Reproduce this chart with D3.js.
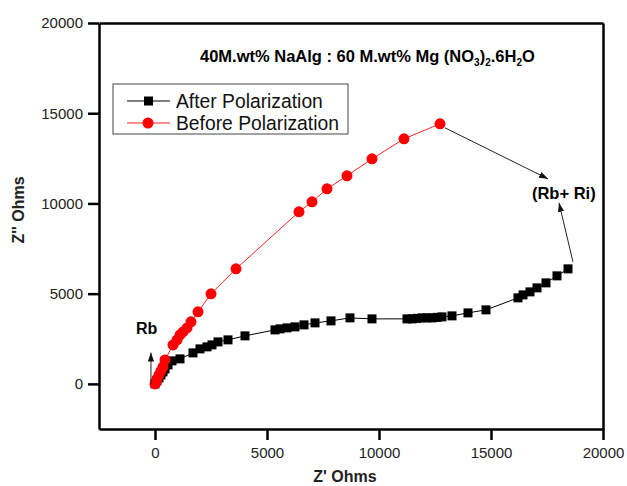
<!DOCTYPE html>
<html>
<head>
<meta charset="utf-8">
<script src="https://cdn.jsdelivr.net/npm/d3@7"></script>
<style>
  body { margin: 0; background: #fff; }
  svg { font-family: "Liberation Sans", Arial, sans-serif; }
  .axis path, .axis line { stroke: #000; stroke-width: 2.5; }
  .axis text { font-size: 15px; fill: #222; }
</style>
</head>
<body>
<div id="chart"></div>
<script>
// Z' / Z'' impedance data (Ohms)
const afterX = [0, 89, 179, 268, 357, 446, 580, 759, 1116, 1696, 2009, 2321, 2545, 2812, 3259, 4018,
  5357, 5580, 5893, 6250, 6652, 7143, 7857, 8705, 9687, 11250, 11473, 11696, 11920, 12143, 12366,
  12589, 12812, 13259, 13973, 14777, 16205, 16428, 16741, 17054, 17455, 17946, 18437];
const afterY = [0, 166, 333, 499, 665, 831, 1053, 1275, 1386, 1718, 1940, 2051, 2162, 2328, 2439, 2661,
  2993, 3049, 3104, 3160, 3270, 3381, 3492, 3658, 3603, 3603, 3603, 3630, 3658, 3658, 3658,
  3686, 3714, 3769, 3935, 4102, 4767, 4933, 5100, 5321, 5599, 5987, 6374];

const beforeX = [0, 45, 89, 179, 268, 357, 446, 804, 982, 1116, 1250, 1429, 1607, 1920, 2500, 3616,
  6428, 7009, 7679, 8571, 9687, 11116, 12723];
const beforeY = [0, 111, 277, 499, 720, 942, 1330, 2162, 2439, 2716, 2882, 3104, 3437, 3991, 4989, 6374,
  9534, 10088, 10809, 11529, 12472, 13580, 14412];

const xTicks = [0, 5000, 10000, 15000, 20000];
const yTicks = [0, 5000, 10000, 15000, 20000];

// annotation arrows [x1, y1, x2, y2] in data units
const arrows = [
  [-180, 18, -180, 1735],
  [12946, 14190, 17545, 11363],
  [18660, 6762, 18035, 10033]
];

const W = 627, H = 486;
const plot = {left: 99, right: 603, top: 23, bottom: 429};

const svg = d3.select("#chart").append("svg").attr("width", W).attr("height", H);

const x = d3.scaleLinear().domain([-2500, 20000]).range([plot.left, plot.right]);
const y = d3.scaleLinear().domain([-2500, 20000]).range([plot.bottom, plot.top]);

svg.append("defs").append("marker")
  .attr("id", "arr").attr("viewBox", "0 0 10 10").attr("refX", 10).attr("refY", 5)
  .attr("markerWidth", 9).attr("markerHeight", 9).attr("markerUnits", "userSpaceOnUse")
  .attr("orient", "auto")
  .append("path").attr("d", "M0,1.5 L10,5 L0,8.5 Z").attr("fill", "#111");

// frame
svg.append("g").attr("class", "axis").attr("transform", `translate(0,${plot.bottom})`)
  .call(d3.axisBottom(x).tickValues(xTicks).tickSize(11).tickSizeOuter(0).tickPadding(7).tickFormat(d3.format("d")));
svg.append("g").attr("class", "axis").attr("transform", `translate(${plot.left},0)`)
  .call(d3.axisLeft(y).tickValues(yTicks).tickSize(11).tickSizeOuter(0).tickPadding(5).tickFormat(d3.format("d")));
svg.append("g").attr("class", "axis").attr("transform", `translate(0,${plot.top})`)
  .call(d3.axisTop(x).tickValues([]).tickSizeOuter(0));
svg.append("g").attr("class", "axis").attr("transform", `translate(${plot.right},0)`)
  .call(d3.axisRight(y).tickValues([]).tickSizeOuter(0));

// axis titles
svg.append("text").attr("x", 345).attr("y", 482).attr("text-anchor", "middle")
  .attr("font-size", 16).attr("font-weight", "bold").attr("fill", "#222").text("Z' Ohms");
svg.append("text").attr("transform", "translate(24,210) rotate(-90)").attr("text-anchor", "middle")
  .attr("font-size", 16).attr("font-weight", "bold").attr("fill", "#222").text("Z'' Ohms");

// series
const after = afterX.map((v, i) => [v, afterY[i]]);
const before = beforeX.map((v, i) => [v, beforeY[i]]);
const line = d3.line().x(d => x(d[0])).y(d => y(d[1]));

svg.append("path").datum(after).attr("d", line).attr("fill", "none").attr("stroke", "#000").attr("stroke-width", 1);
svg.append("path").datum(before).attr("d", line).attr("fill", "none").attr("stroke", "#ff2020").attr("stroke-width", 1);

svg.append("g").selectAll("rect").data(after).join("rect")
  .attr("x", d => x(d[0]) - 4.5).attr("y", d => y(d[1]) - 4.5)
  .attr("width", 9).attr("height", 9).attr("fill", "#000");
svg.append("g").selectAll("circle").data(before).join("circle")
  .attr("cx", d => x(d[0])).attr("cy", d => y(d[1])).attr("r", 5.5).attr("fill", "#f00");

// annotations
svg.append("g").selectAll("line").data(arrows).join("line")
  .attr("x1", d => x(d[0])).attr("y1", d => y(d[1]))
  .attr("x2", d => x(d[2])).attr("y2", d => y(d[3]))
  .attr("stroke", "#222").attr("stroke-width", 1).attr("marker-end", "url(#arr)");

svg.append("text").attr("x", x(-850)).attr("y", y(2750)).attr("font-size", 16).attr("font-weight", "bold").text("Rb");
svg.append("text").attr("x", x(18250)).attr("y", y(10250)).attr("text-anchor", "middle")
  .attr("font-size", 16.5).attr("font-weight", "bold").text("(Rb+ Ri)");

// title with subscripts
const t = svg.append("text").attr("x", 200).attr("y", 62).attr("font-size", 16.5).attr("font-weight", "bold");
t.append("tspan").text("40M.wt% NaAlg : 60 M.wt% Mg (NO");
t.append("tspan").attr("font-size", 10).attr("dy", 4).text("3");
t.append("tspan").attr("dy", -4).text(")");
t.append("tspan").attr("font-size", 10).attr("dy", 4).text("2");
t.append("tspan").attr("dy", -4).text(".6H");
t.append("tspan").attr("font-size", 10).attr("dy", 4).text("2");
t.append("tspan").attr("dy", -4).text("O");

// legend
const lg = svg.append("g");
lg.append("rect").attr("x", 113).attr("y", 84).attr("width", 235).attr("height", 50)
  .attr("fill", "#fff").attr("stroke", "#444").attr("stroke-width", 1);
const items = [
  {label: "After Polarization", color: "#000", shape: "square"},
  {label: "Before Polarization", color: "#ff2020", shape: "circle"}
];
items.forEach((it, i) => {
  const cy = 101 + i * 22;
  lg.append("line").attr("x1", 127).attr("x2", 170).attr("y1", cy).attr("y2", cy)
    .attr("stroke", it.color).attr("stroke-width", 1);
  if (it.shape === "square") {
    lg.append("rect").attr("x", 144).attr("y", cy - 4.5).attr("width", 9).attr("height", 9).attr("fill", "#000");
  } else {
    lg.append("circle").attr("cx", 148).attr("cy", cy).attr("r", 5.5).attr("fill", "#f00");
  }
  lg.append("text").attr("x", 176).attr("y", cy + 6.5).attr("font-size", 19.3).attr("fill", "#111").text(it.label);
});
</script>
</body>
</html>
